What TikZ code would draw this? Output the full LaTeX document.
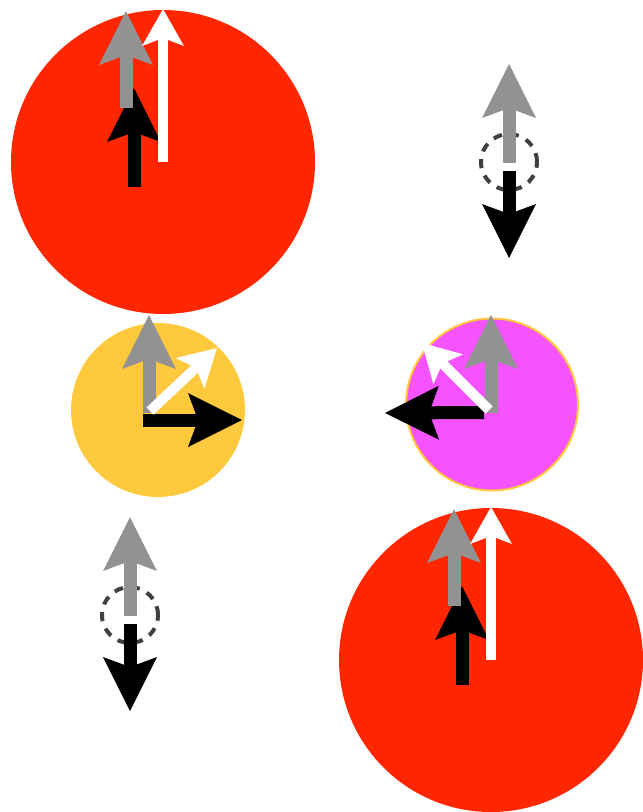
\documentclass[tikz,border=0pt]{standalone}
\usetikzlibrary{arrows.meta}

\definecolor{ballred}{HTML}{FF2600}
\definecolor{ballyellow}{HTML}{FFC93E}
\definecolor{ballpink}{HTML}{F553FF}
\definecolor{vecgray}{HTML}{929292}
\definecolor{ringgray}{HTML}{404040}

\tikzset{
  ball/.style={circle,inner sep=0pt,draw=none},
  fatvec/.style={line width=13pt,-{Stealth[length=54pt,width=54pt,inset=10pt,line width=0pt]}},
  slimvec/.style={line width=10pt,-{Stealth[length=37pt,width=42pt,inset=8pt,line width=0pt]}},
  ring/.style={circle,inner sep=0pt,minimum size=56pt,draw=ringgray,line width=4pt,dash pattern=on 9pt off 8pt},
}

\begin{document}
\begin{tikzpicture}[x=1pt,y=-1pt]
  \useasboundingbox (0,0) rectangle (643,812);
  % the two big red balls
  \foreach \cx/\cy in {163/162,491/660}
  {
  \begin{scope}[shift={(\cx,\cy)}]
    \node[ball,fill=ballred,minimum size=304pt] (big) at (0,0) {};
    \coordinate (b0) at (-29,25);  \coordinate (b1) at (-29,-74);
    \coordinate (g0) at (-37,-54); \coordinate (g1) at (-37,-151);
    \coordinate (w1) at (0,-153);
    \draw[fatvec,black] (b0) -- (b1);
    \draw[fatvec,vecgray] (g0) -- (g1);
    \draw[slimvec,white] (big.center) -- (w1);
  \end{scope}
  }
  % the two dashed rings with up/down arrows
  \foreach \cx/\cy in {509/162,130/615}
  {
  \begin{scope}[shift={(\cx,\cy)}]
    \node[ring] (hole) at (0,0) {};
    \coordinate (g0) at (0,1); \coordinate (g1) at (0,-98);
    \coordinate (b0) at (0,9); \coordinate (b1) at (0,96);
    \draw[fatvec,vecgray] (g0) -- (g1);
    \draw[fatvec,black] (b0) -- (b1);
  \end{scope}
  }
  %
  % yellow ball
  \node[ball,fill=ballyellow,minimum size=174pt] (yel) at (158,410) {};
  \coordinate (yg0) at (149,413);   \coordinate (yg1) at (149,315);
  \coordinate (yb0) at (142.5,420); \coordinate (yb1) at (242,420);
  \coordinate (yw0) at (150,411);   \coordinate (yw1) at (217,348);
  \draw[fatvec,vecgray] (yg0) -- (yg1);
  \draw[fatvec,black] (yb0) -- (yb1);
  \draw[slimvec,white] (yw0) -- (yw1);
  %
  % pink ball
  \node[ball,fill=ballpink,draw=ballyellow,line width=2pt,minimum size=172pt] (pink) at (492,404.5) {};
  \coordinate (pg0) at (491,413);   \coordinate (pg1) at (491,315);
  \coordinate (pb0) at (484,412.5); \coordinate (pb1) at (385,413);
  \coordinate (pw0) at (489,410);   \coordinate (pw1) at (422,343);
  \draw[fatvec,vecgray] (pg0) -- (pg1);
  \draw[fatvec,black] (pb0) -- (pb1);
  \draw[slimvec,white] (pw0) -- (pw1);
\end{tikzpicture}
\end{document}
